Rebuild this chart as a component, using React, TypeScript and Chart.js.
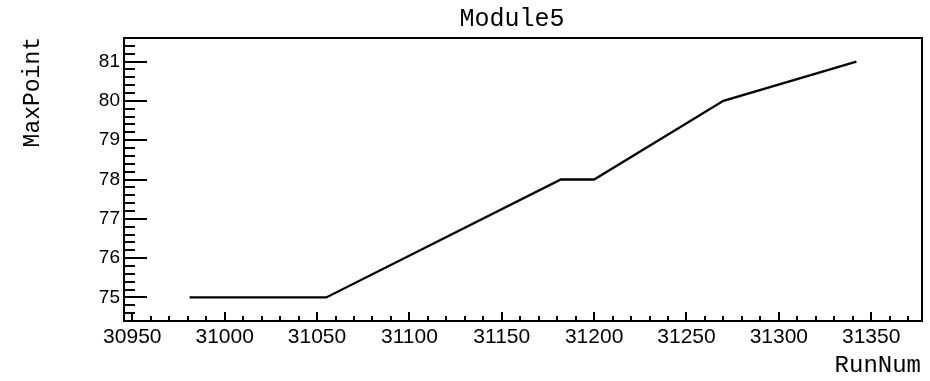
import React, { useEffect, useRef } from "react";
import { Chart, registerables } from "chart.js";

Chart.register(...registerables);

const runNums = [30981, 31055, 31182, 31200, 31270, 31342];
const maxPoints = [75, 75, 78, 78, 80, 81];
const xTickValues = [30950, 31000, 31050, 31100, 31150, 31200, 31250, 31300, 31350];
const yTickValues = [75, 76, 77, 78, 79, 80, 81];
const chartTitle = "Module5";
const xTitle = "RunNum";
const yTitle = "MaxPoint";

const X_MIN = 30945.5;
const X_MAX = 31377.5;
const Y_MIN = 74.4;
const Y_MAX = 81.6;

const MONO = "'Liberation Mono', 'DejaVu Sans Mono', monospace";

const framePlugin = {
  id: "rootFrame",
  afterDraw(chart: any) {
    const { ctx, chartArea } = chart;
    const xs = chart.scales.x;
    const ys = chart.scales.y;
    const { left, right, top, bottom } = chartArea;
    ctx.save();
    ctx.strokeStyle = "#000";
    ctx.lineWidth = 2;
    ctx.strokeRect(left, top, right - left, bottom - top);
    ctx.beginPath();
    for (let i = 0; ; i++) {
      const v = Math.ceil(Y_MIN * 5) / 5 + i * 0.2;
      if (v > Y_MAX + 1e-9) break;
      const py = Math.round(ys.getPixelForValue(v));
      const isMajor = Math.abs(v - Math.round(v)) < 1e-6;
      const len = isMajor ? 23 : 11;
      ctx.moveTo(left, py);
      ctx.lineTo(left + len, py);
    }
    for (let v = Math.ceil(X_MIN / 10) * 10; v <= X_MAX; v += 10) {
      const px = Math.round(xs.getPixelForValue(v));
      const isMajor = v % 50 === 0;
      const len = isMajor ? 9 : 5;
      ctx.moveTo(px, bottom);
      ctx.lineTo(px, bottom - len);
    }
    ctx.stroke();

    ctx.fillStyle = "#000";
    ctx.textBaseline = "middle";
    ctx.font = "25px " + MONO;
    ctx.textAlign = "center";
    ctx.fillText(chartTitle, 512, 19);

    ctx.font = "24px " + MONO;
    ctx.textAlign = "right";
    ctx.fillText(xTitle, right - 1, 366);

    ctx.font = "23px " + MONO;
    ctx.translate(33, top - 1);
    ctx.rotate(-Math.PI / 2);
    ctx.textAlign = "right";
    ctx.fillText(yTitle, 0, 0);
    ctx.restore();
  },
};

export default function App() {
  const ref = useRef<HTMLCanvasElement>(null);
  useEffect(() => {
    if (!ref.current) return;
    const chart = new Chart(ref.current, {
      type: "line",
      data: {
        datasets: [
          {
            data: runNums.map((x, i) => ({ x, y: maxPoints[i] })),
            borderColor: "#000",
            borderWidth: 2.3,
            pointRadius: 0,
            tension: 0,
            fill: false,
          },
        ],
      },
      options: {
        animation: false,
        responsive: false,
        maintainAspectRatio: false,
        layout: { padding: { left: 0, right: 8, top: 38, bottom: 0 } },
        plugins: { legend: { display: false }, tooltip: { enabled: false }, title: { display: false } },
        scales: {
          x: {
            type: "linear",
            min: X_MIN,
            max: X_MAX,
            afterBuildTicks: (s: any) => {
              s.ticks = xTickValues.map((v) => ({ value: v }));
            },
            afterFit: (s: any) => {
              s.height = 60;
            },
            grid: { display: false, drawTicks: false },
            border: { display: false },
            ticks: {
              color: "#000",
              padding: 4,
              maxRotation: 0,
              autoSkip: false,
              font: { family: "'Liberation Sans', Arial, sans-serif", size: 21 },
              callback: (v: any) => String(v),
            },
          },
          y: {
            type: "linear",
            min: Y_MIN,
            max: Y_MAX,
            afterBuildTicks: (s: any) => {
              s.ticks = yTickValues.map((v) => ({ value: v }));
            },
            afterFit: (s: any) => {
              s.width = 124;
            },
            grid: { display: false, drawTicks: false },
            border: { display: false },
            ticks: {
              color: "#000",
              padding: 4,
              autoSkip: false,
              font: { family: "'Liberation Sans', Arial, sans-serif", size: 19 },
              callback: (v: any) => String(v),
            },
          },
        },
      },
      plugins: [framePlugin],
    });
    return () => chart.destroy();
  }, []);
  return (
    <div style={{ position: "fixed", left: 0, top: 0, width: 930, height: 381, background: "#fff" }}>
      <canvas ref={ref} width={930} height={381} style={{ width: 930, height: 381 }} />
    </div>
  );
}
